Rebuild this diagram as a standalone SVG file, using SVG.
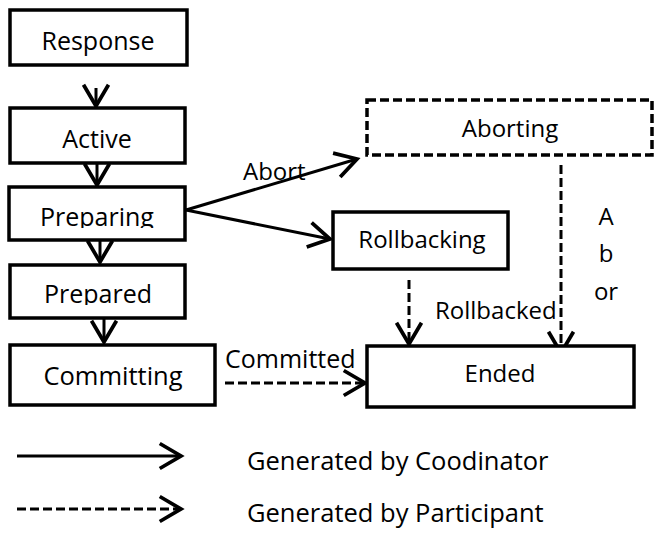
<svg xmlns="http://www.w3.org/2000/svg" width="654" height="535" viewBox="0 0 654 535">
<style>
.box{fill:#fff;stroke:#000;stroke-width:3.5}
.dbox{fill:#fff;stroke:#000;stroke-width:3.5;stroke-dasharray:9 4}
.t{font-family:"Open Sans","Liberation Sans",sans-serif;font-size:24px;fill:#000}
.m{text-anchor:middle}
.ln{fill:none;stroke:#000;stroke-width:3;marker-end:url(#arr)}
.dl{fill:none;stroke:#000;stroke-width:3;stroke-dasharray:9 4;marker-end:url(#arr)}
</style>
<defs>
<marker id="arr" markerUnits="userSpaceOnUse" markerWidth="30" markerHeight="30" viewBox="-20 -12 22 24" refX="0" refY="0" orient="auto" overflow="visible">
<path d="M-17,-10 L0,0 L-17,10" fill="none" stroke="#000" stroke-width="3" stroke-linejoin="miter"/>
</marker>
<clipPath id="cPrep"><rect x="0" y="185" width="200" height="43"/></clipPath>
<clipPath id="cPred"><rect x="0" y="263" width="200" height="42"/></clipPath>
</defs>

<g id="connectors">
<line class="ln" x1="96" y1="88" x2="96" y2="106"/>
<line class="ln" x1="97" y1="163" x2="97" y2="185"/>
<line class="ln" x1="100" y1="240" x2="100" y2="262"/>
<line class="ln" x1="104" y1="318" x2="104" y2="342"/>
<line class="ln" x1="186" y1="210" x2="357" y2="159"/>
<line class="ln" x1="186" y1="210" x2="330" y2="239"/>
<line class="dl" x1="225" y1="383" x2="365" y2="383"/>
<line class="dl" x1="409" y1="280" x2="409" y2="344"/>
<line class="dl" x1="561" y1="165" x2="561" y2="353"/>
<text class="t" x="243" y="180">Abort</text>
<text class="t" x="225" y="368" style="font-size:25px">Committed</text>
<text class="t" x="435" y="319">Rollbacked</text>
<text class="t m" x="606" y="225">A</text>
<text class="t m" x="606" y="262">b</text>
<text class="t m" x="606" y="300">or</text>
</g>

<g id="response">
<rect class="box" x="10" y="10" width="177" height="55"/>
<text class="t m" x="98" y="50" style="font-size:25px">Response</text>
</g>
<g id="active">
<rect class="box" x="10" y="108" width="175" height="55"/>
<text class="t m" x="97" y="148" style="font-size:25px">Active</text>
</g>
<g id="preparing">
<rect class="box" x="9" y="187" width="176" height="53"/>
<text class="t m" x="97" y="226" clip-path="url(#cPrep)" style="font-size:25px">Preparing</text>
</g>
<g id="prepared">
<rect class="box" x="10" y="265" width="175" height="53"/>
<text class="t m" x="98" y="303" clip-path="url(#cPred)" style="font-size:25px">Prepared</text>
</g>
<g id="committing">
<rect class="box" x="10" y="345" width="205" height="60"/>
<text class="t m" x="113" y="385" style="font-size:25.5px">Committing</text>
</g>
<g id="aborting">
<rect class="dbox" x="367" y="100" width="285" height="55"/>
<text class="t m" x="510" y="137">Aborting</text>
</g>
<g id="rollbacking">
<rect class="box" x="333" y="212" width="175" height="57"/>
<text class="t m" x="422" y="248">Rollbacking</text>
</g>
<g id="ended">
<rect class="box" x="367" y="346" width="267" height="61"/>
<text class="t m" x="500" y="382">Ended</text>
</g>

<g id="legend">
<line class="ln" x1="17" y1="456" x2="181" y2="456"/>
<line class="dl" x1="17" y1="509" x2="181" y2="509"/>
<text class="t" x="247" y="470" style="font-size:25.5px">Generated by Coodinator</text>
<text class="t" x="247" y="522" style="font-size:25.5px">Generated by Participant</text>
</g>
</svg>
